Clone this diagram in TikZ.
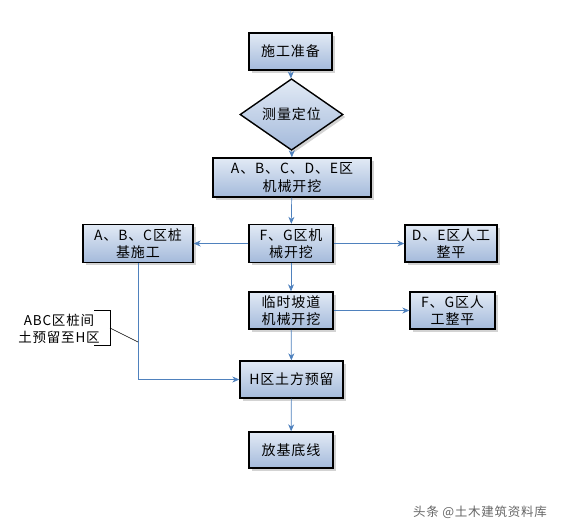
\documentclass[tikz,border=0pt]{standalone}
\usepackage{fontspec}
\setmainfont[LetterSpace=6]{Noto Sans CJK SC}
\definecolor{linkblue}{RGB}{79, 129, 189}
\definecolor{boxtop}{RGB}{226, 234, 245}
\definecolor{boxbot}{RGB}{164, 186, 219}
\usetikzlibrary{shapes.geometric, arrows.meta, shadows}

\begin{document}
\begin{tikzpicture}[
  x=1pt, y=-1pt,
  stepbox/.style={draw=black, line width=1.4pt, top color=boxtop, bottom color=boxbot,
    drop shadow={shadow xshift=2.5pt, shadow yshift=-2.5pt, opacity=0.35},
    minimum height=37pt, inner sep=1pt, align=center, font=\fontsize{14}{17.5}\selectfont},
  checkbox/.style={stepbox, diamond, minimum width=103pt, minimum height=45pt, inner sep=0pt},
  arr/.style={-{Stealth[length=7pt, width=6pt]}, linkblue, line width=0.7pt}
]
  \useasboundingbox (0,0) rectangle (561,531);

  % --- main column ---
  \node[stepbox, minimum width=83pt] (prep) at (290.5, 51.5) {施工准备};
  \node[checkbox] (survey) at (291.5, 114.5) {测量定位};
  \node[stepbox, minimum width=158pt, minimum height=39pt] (abcde) at (292, 177.5) {A、B、C、D、E区\\机械开挖};
  \node[stepbox, minimum width=84pt, minimum height=38pt] (fgmech) at (291, 243.5) {F、G区机\\械开挖};
  \node[stepbox, minimum width=84pt] (ramp) at (291, 310.5) {临时坡道\\机械开挖};
  \node[stepbox, minimum width=103pt] (hzone) at (291.5, 379.5) {H区土方预留};
  \node[stepbox, minimum width=84pt, minimum height=36pt] (baseline) at (291, 450) {放基底线};

  % --- side boxes ---
  \node[stepbox, minimum width=110pt, minimum height=38pt] (abcpile) at (138, 243.5) {A、B、C区桩\\基施工};
  \node[stepbox, minimum width=92pt] (deflat) at (451, 243.5) {D、E区人工\\整平};
  \node[stepbox, minimum width=85pt] (fgflat) at (452.5, 310.5) {F、G区人\\工整平};

  % --- links ---
  \draw[arr] (prep) -- (survey);
  \draw[arr] (survey) -- (abcde);
  \draw[arr] (abcde) -- (fgmech);
  \draw[arr] (fgmech) -- (abcpile);
  \draw[arr] (fgmech) -- (deflat);
  \draw[arr] (fgmech) -- (ramp);
  \draw[arr] (ramp) -- (fgflat);
  \draw[arr] (ramp) -- (hzone);
  \draw[arr] (abcpile.south) |- (hzone.west);
  \draw[arr] (hzone) -- (baseline);

  % --- note on the pile area ---
  \node[align=center, font=\fontsize{13.5}{17}\selectfont] (note) at (59, 329) {ABC区桩间\\土预留至H区};
  \coordinate (brmid) at (110, 328);
  \coordinate (lead) at (138, 342);
  \draw[line width=0.9pt] (94, 310) -- (110, 310) -- (110, 345) -- (94, 345);
  \draw[line width=0.6pt] (brmid) -- (lead);

  % --- watermark ---
  \node[text=black!60, font=\fontsize{12.5}{15}\selectfont] (mark) at (480, 512) {头条 @土木建筑资料库};
\end{tikzpicture}
\end{document}
